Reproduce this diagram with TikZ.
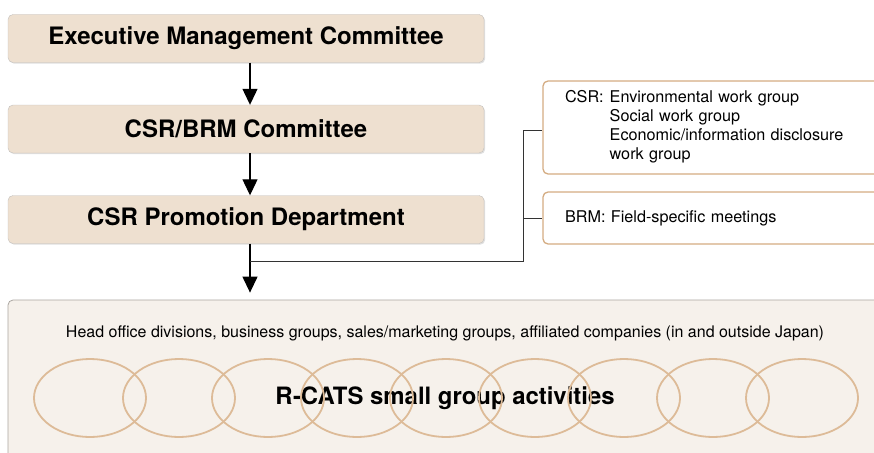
\documentclass[tikz,border=0pt]{standalone}
\usepackage{fontspec}
\setmainfont{TeX Gyre Heros}
\usepackage{xcolor}
\definecolor{csrtan}{RGB}{238,224,208}
\definecolor{csrline}{RGB}{212,172,130}
\definecolor{csrring}{RGB}{221,187,152}
\definecolor{csrbase}{RGB}{246,241,235}
\definecolor{csrgray}{RGB}{170,165,160}
\usepackage{tikz}
\usetikzlibrary{arrows.meta, positioning, shadows}

\begin{document}
\begin{tikzpicture}[x=1pt, y=-1pt,
  level/.style={rectangle, rounded corners=5pt, draw=csrgray!70, fill=csrtan,
              minimum width=476pt, minimum height=48pt,
              font=\fontsize{24}{28}\selectfont\bfseries, align=center,
              drop shadow={shadow xshift=1.2pt, shadow yshift=-1.2pt, opacity=0.25}},
  group/.style={rectangle, rounded corners=5pt, draw=csrline, line width=1.3pt, fill=white,
              minimum width=360pt, inner xsep=22pt, align=left,
              font=\fontsize{16.2}{19}\selectfont},
  arr/.style={-{Triangle[length=16pt, width=15pt]}, line width=1.2pt},
  link/.style={line width=1pt, draw=black!80},
  ring/.style={draw=csrring, line width=1.8pt}
]
\clip (0,0) rectangle (874,452);
\useasboundingbox (0,0) rectangle (874,452);

% Committees
\node[level] (exec) at (246,38.5) {Executive Management Committee};
\node[level] (csrbrm) at (246,129) {CSR/BRM Committee};
\node[level] (promo) at (246,219.5) {CSR Promotion Department};

% Work groups
\node[group, minimum height=93pt, text width=316pt] (csrg) at (723,127.5)
  {\begin{tabular}{@{}l@{\hspace{6pt}}l@{}}
   CSR: & Environmental work group\\
        & Social work group\\
        & Economic/information disclosure\\
        & work group
   \end{tabular}};
\node[group, minimum height=52pt, text width=316pt] (brmg) at (723,218) {BRM: Field-specific meetings};

% Front line
\node[rectangle, rounded corners=5pt, draw=csrgray, line width=0.8pt, fill=csrbase,
      minimum width=900pt, minimum height=170pt] (base) at (458,385) {};
\node[font=\fontsize{16}{19}\selectfont] (scope) at (445,333)
  {Head office divisions, business groups, sales/marketing groups, affiliated companies (in and outside Japan)};
\node[font=\fontsize{23.9}{28}\selectfont\bfseries] (rcats) at (445,398) {R-CATS small group activities};
\foreach \i in {0,...,8}
  \draw[ring] (90+89*\i,398) ellipse [x radius=56pt, y radius=39pt];

% Connectors
\coordinate (fork) at (250,261);
\coordinate (bus) at (523,261);
\draw[arr] ([xshift=4pt]exec.south) -- ([xshift=4pt]csrbrm.north);
\draw[arr] ([xshift=4pt]csrbrm.south) -- ([xshift=4pt]promo.north);
\draw[arr] ([xshift=4pt]promo.south) -- ([yshift=7pt]base.north -| fork);
\draw[link] (fork) -- (bus) |- ([yshift=-2.5pt]csrg.west);
\draw[link] (bus |- brmg.west) -- (brmg.west);
\end{tikzpicture}
\end{document}
